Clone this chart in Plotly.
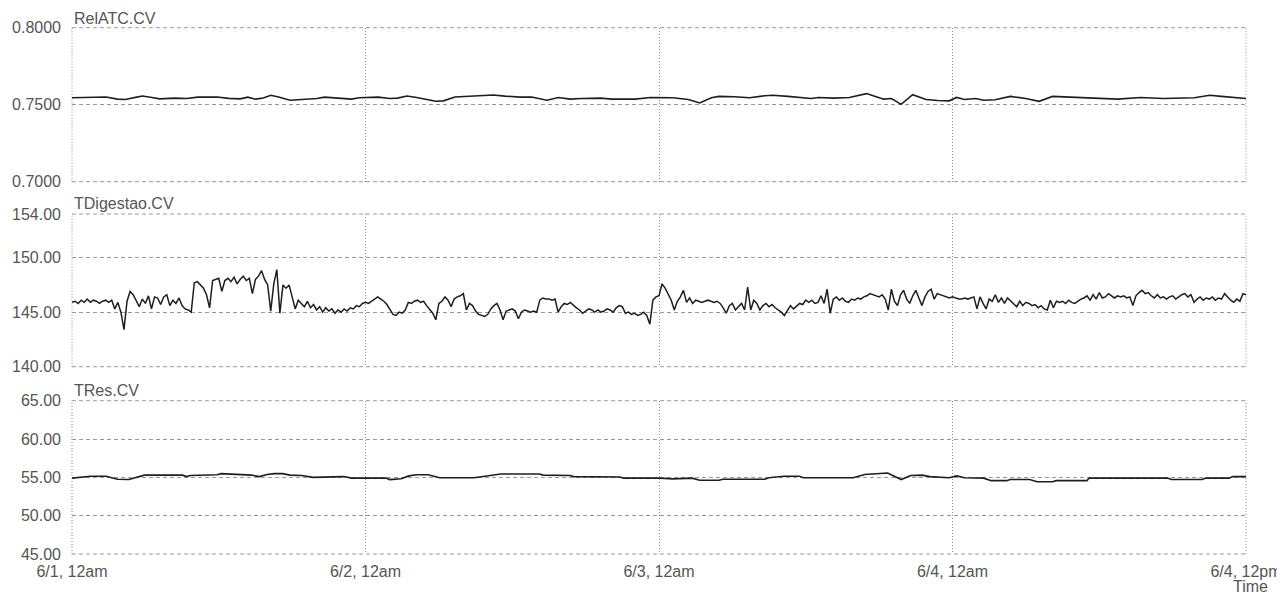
import plotly.graph_objects as go
from plotly.subplots import make_subplots

# ---------------- data (hours since 6/1 12am) ----------------
series_names = ["RelATC.CV", "TDigestao.CV", "TRes.CV"]

relatc_hours = [
    0, 1.53, 2.78, 3.72, 4.35, 5.29, 5.76, 6.54, 7.17, 8.42,
    9.36, 10.3, 11.24, 11.87, 12.81, 13.75, 14.38, 15.01, 15.64, 16.26,
    16.89, 17.83, 18.46, 20.02, 20.65, 21.9, 22.85, 23.47, 24.1, 25.04,
    25.98, 26.61, 27.39, 28.18, 29.75, 30.37, 31.31, 32.25, 33.19, 34.45,
    35.39, 36.64, 37.58, 38.84, 39.78, 40.72, 41.66, 43.22, 44.16, 46.05,
    47.3, 48.08, 49.14, 50.39, 51.33, 52.28, 52.9, 54.16, 55.41, 56.66,
    57.29, 58.54, 59.8, 60.43, 61.05, 62.31, 63.56, 64.19, 64.97, 65.76,
    66.38, 67.01, 67.8, 68.74, 69.84, 70.78, 71.72, 72.34, 72.97, 73.91,
    74.54, 75.48, 76.73, 77.99, 79.08, 80.18, 81.43, 83.31, 84.26, 85.51,
    87.39, 89.27, 91.78, 93.04, 93.98, 94.92, 95.85, 96.0,
]
relatc_values = [
    0.7545, 0.7549, 0.7550, 0.7536, 0.7534, 0.7549, 0.7556, 0.7547, 0.7538, 0.7543,
    0.7540, 0.7549, 0.7547, 0.7550, 0.7541, 0.7538, 0.7549, 0.7536, 0.7543, 0.7561,
    0.7550, 0.7529, 0.7532, 0.7540, 0.7549, 0.7543, 0.7536, 0.7545, 0.7545, 0.7549,
    0.7540, 0.7543, 0.7556, 0.7547, 0.7522, 0.7525, 0.7550, 0.7554, 0.7558, 0.7563,
    0.7556, 0.7549, 0.7550, 0.7529, 0.7547, 0.7536, 0.7540, 0.7543, 0.7536, 0.7536,
    0.7547, 0.7547, 0.7545, 0.7534, 0.7511, 0.7545, 0.7554, 0.7552, 0.7545, 0.7558,
    0.7561, 0.7554, 0.7547, 0.7540, 0.7547, 0.7543, 0.7547, 0.7558, 0.7572, 0.7552,
    0.7536, 0.7540, 0.7502, 0.7565, 0.7534, 0.7527, 0.7525, 0.7547, 0.7534, 0.7540,
    0.7529, 0.7532, 0.7554, 0.7540, 0.7522, 0.7554, 0.7550, 0.7543, 0.7540, 0.7536,
    0.7547, 0.7540, 0.7545, 0.7561, 0.7554, 0.7549, 0.7540, 0.7540,
]

# TDigestao.CV sampled every 15 minutes (one row per hour)
tdig_values = [
    145.9, 146.0, 145.8, 146.1,
    145.9, 146.2, 145.9, 146.1,
    146.0, 145.8, 146.0, 146.1,
    145.9, 146.1, 145.3, 145.9,
    145.0, 143.4, 146.0, 146.9,
    146.6, 146.1, 145.5, 146.2,
    145.8, 146.5, 145.3, 146.4,
    146.3, 145.7, 146.4, 146.6,
    145.6, 146.1, 145.8, 146.3,
    145.6, 145.3, 145.2, 145.0,
    147.7, 147.8, 147.5, 147.2,
    146.6, 145.4, 147.9, 148.0,
    148.1, 146.9, 147.9, 148.1,
    147.8, 148.2, 147.6, 148.0,
    148.3, 147.9, 148.1, 146.7,
    148.0, 148.3, 148.8, 148.0,
    147.5, 145.1, 147.6, 148.9,
    144.9, 147.5, 147.2, 147.5,
    146.3, 145.3, 146.1, 145.8,
    145.5, 146.0, 145.4, 145.7,
    145.2, 145.5, 145.0, 145.4,
    145.1, 145.3, 144.9, 145.2,
    145.0, 145.3, 145.1, 145.4,
    145.3, 145.6, 145.5, 145.8,
    145.9, 145.8, 146.0, 146.2,
    146.4, 146.2, 146.0, 145.7,
    145.3, 144.8, 144.7, 145.0,
    144.9, 145.2, 145.9, 145.8,
    146.0, 146.1, 145.9, 146.0,
    145.6, 145.2, 144.9, 144.3,
    145.8, 146.0, 146.4, 146.1,
    145.5, 146.2, 146.4, 146.5,
    146.7, 145.2, 145.8, 145.6,
    145.1, 144.8, 144.7, 144.6,
    144.8, 145.3, 145.6, 145.8,
    145.2, 144.3, 145.1, 145.2,
    145.3, 145.1, 144.4, 145.0,
    145.2, 145.1, 145.0, 145.1,
    145.0, 146.1, 146.3, 146.2,
    146.2, 146.1, 146.2, 145.0,
    145.5, 145.8, 145.7, 145.9,
    145.6, 145.4, 145.2, 144.9,
    145.1, 145.3, 145.2, 145.0,
    145.2, 145.0, 145.1, 145.3,
    145.2, 145.0, 145.4, 145.6,
    145.5, 144.9, 145.0, 144.8,
    144.9, 144.7, 144.8, 145.0,
    144.7, 143.9, 146.1, 146.4,
    146.5, 147.6, 147.2, 146.7,
    146.1, 145.2, 146.0, 146.4,
    147.0, 145.9, 146.3, 145.8,
    146.1, 146.0, 145.9, 146.0,
    146.1, 146.0, 145.9, 146.0,
    145.8, 145.4, 144.9, 145.6,
    145.8, 145.2, 145.5, 145.8,
    145.2, 147.3, 145.2, 146.1,
    145.8, 145.2, 145.6, 145.8,
    145.5, 145.7, 145.4, 145.2,
    145.0, 144.7, 145.1, 145.6,
    145.3, 145.6, 145.8, 145.7,
    146.1, 145.9, 146.1, 145.8,
    145.9, 146.5, 145.8, 147.1,
    144.9, 146.2, 146.4, 146.1,
    146.3, 146.0, 145.9, 146.2,
    146.1, 146.3, 146.2, 146.4,
    146.5, 146.7, 146.6, 146.5,
    146.4, 146.6, 146.2, 145.2,
    147.1, 146.0, 145.6, 146.6,
    147.0, 146.2, 145.8, 146.5,
    147.0, 146.3, 145.6, 146.4,
    146.9, 147.1, 146.2, 146.7,
    146.6, 146.5, 146.4, 146.3,
    146.4, 146.3, 146.2, 146.2,
    146.3, 146.2, 146.3, 146.4,
    145.3, 146.4, 145.8, 145.3,
    146.2, 146.0, 146.6, 145.9,
    146.3, 145.8, 146.3, 146.0,
    145.7, 145.5, 146.0, 145.6,
    145.9, 145.8, 145.6, 145.7,
    145.4, 145.6, 145.3, 145.2,
    146.1, 145.4, 146.0, 145.9,
    146.0, 145.8, 146.1, 145.9,
    145.8, 146.0, 146.2, 146.3,
    146.5, 146.1, 146.6, 146.2,
    146.8, 146.3, 146.4, 146.7,
    146.5, 146.3, 146.5, 146.4,
    146.5, 146.3, 146.4, 145.6,
    146.5, 146.8, 147.0, 146.7,
    146.8, 146.5, 146.3, 146.6,
    146.3, 146.4, 146.2, 146.4,
    146.5, 146.2, 146.4, 146.6,
    146.7, 146.4, 146.6, 145.9,
    146.2, 146.4, 146.1, 146.3,
    146.2, 146.4, 146.1, 146.3,
    146.2, 146.7, 146.4, 146.1,
    145.9, 146.2, 146.0, 146.7,
    146.6,
]
tdig_hours = [i * 0.25 for i in range(len(tdig_values))]

tres_hours = [
    0, 1.53, 2.78, 3.72, 4.66, 5.29, 5.92, 9.05, 9.36, 9.68,
    11.87, 12.19, 12.81, 13.13, 14.69, 15.32, 15.95, 16.57, 17.2, 17.83,
    18.77, 19.71, 22.22, 22.85, 25.67, 25.98, 26.92, 27.55, 28.18, 29.12,
    30.06, 32.88, 33.5, 34.45, 35.07, 38.21, 38.52, 40.72, 41.03, 44.79,
    45.1, 48.08, 49.14, 50.71, 51.33, 52.9, 53.22, 56.66, 56.98, 58.23,
    59.49, 59.8, 63.88, 64.82, 66.38, 66.7, 67.8, 68.58, 69.52, 70.15,
    71.72, 72.34, 72.97, 74.54, 75.17, 76.42, 76.73, 78.3, 78.93, 80.18,
    80.49, 83.0, 83.16, 89.58, 89.9, 92.41, 92.72, 94.6, 94.92, 96.0,
]
tres_values = [
    54.90, 55.14, 55.14, 54.76, 54.71, 54.95, 55.29, 55.29, 55.10, 55.24,
    55.33, 55.48, 55.43, 55.33, 55.29, 55.10, 55.38, 55.48, 55.48, 55.29,
    55.24, 55.00, 55.10, 54.90, 54.90, 54.71, 54.81, 55.19, 55.33, 55.33,
    54.95, 54.95, 55.10, 55.29, 55.43, 55.43, 55.29, 55.24, 55.10, 55.05,
    54.90, 54.90, 54.80, 54.90, 54.62, 54.62, 54.76, 54.76, 54.95, 55.14,
    55.14, 54.95, 54.95, 55.38, 55.52, 55.57, 54.71, 55.24, 55.29, 55.10,
    54.95, 55.19, 54.95, 54.90, 54.57, 54.57, 54.71, 54.71, 54.43, 54.43,
    54.57, 54.57, 54.90, 54.90, 54.71, 54.71, 54.90, 54.90, 55.10, 55.10,
]

x_tick_hours = [0, 24, 48, 72, 96]
x_tick_labels = ["6/1, 12am", "6/2, 12am", "6/3, 12am", "6/4, 12am", "6/4, 12pm"]

relatc_ticks = [0.70, 0.75, 0.80]
tdig_ticks = [140, 145, 150, 154]
tres_ticks = [45, 50, 55, 60, 65]

# ---------------- figure ----------------
# the page has an 8px body margin, so the figure is 8px smaller than the window
W, H = 1277, 588
ML, MR = 64, 39
FONT = "Liberation Sans, Arial, sans-serif"
TXT = "#555555"
GRID = "#9a9a9a"
VGRID = "#8a8a8a"
LINE = "#1e1e1e"
HDASH = "4px,3px"
VDOT = "1px,2px"

fig = make_subplots(rows=3, cols=1, shared_xaxes=True)

fig.add_trace(go.Scatter(x=relatc_hours, y=relatc_values, mode="lines",
                         line=dict(color=LINE, width=1.6), name=series_names[0]), row=1, col=1)
fig.add_trace(go.Scatter(x=tdig_hours, y=tdig_values, mode="lines",
                         line=dict(color=LINE, width=1.5), name=series_names[1]), row=2, col=1)
fig.add_trace(go.Scatter(x=tres_hours, y=tres_values, mode="lines",
                         line=dict(color=LINE, width=1.6), name=series_names[2]), row=3, col=1)

# pixel rows of each panel in figure coordinates (top, bottom)
panels = [(19.7, 173.7), (206.0, 358.7), (392.7, 546.0)]
yranges = [[0.70, 0.80], [140, 154], [45, 65]]
yticks = [relatc_ticks, tdig_ticks, tres_ticks]
yfmts = [".4f", ".2f", ".2f"]

shapes = []
for i in range(3):
    top, bot = panels[i]
    ya = "yaxis" if i == 0 else f"yaxis{i+1}"
    fig.layout[ya].update(
        domain=[1 - bot / H, 1 - top / H],
        range=yranges[i], tickvals=yticks[i], tickformat=yfmts[i],
        showgrid=True, gridcolor=GRID, griddash=HDASH, gridwidth=1,
        zeroline=False, showline=False, ticks="", automargin=False,
        ticklabelstandoff=10,
        tickfont=dict(family=FONT, size=16, color=TXT),
    )
    xa = "xaxis" if i == 0 else f"xaxis{i+1}"
    fig.layout[xa].update(
        range=[0, 96], tickvals=x_tick_hours, ticktext=x_tick_labels,
        showgrid=True, gridcolor=VGRID, griddash=VDOT, gridwidth=1,
        zeroline=False, showline=False, ticks="", automargin=False,
        showticklabels=(i == 2),
        ticklabelstandoff=6,
        tickfont=dict(family=FONT, size=16, color=TXT),
    )
    yref = "y domain" if i == 0 else f"y{i+1} domain"
    # panel border: dashed top/bottom, dotted left/right (grid style)
    for yy in (0, 1):
        shapes.append(dict(type="line", xref="paper", yref=yref, x0=0, x1=1, y0=yy, y1=yy,
                           line=dict(color=GRID, width=1, dash=HDASH), layer="below"))
    for xx in (0, 1):
        shapes.append(dict(type="line", xref="paper", yref=yref, x0=xx, x1=xx, y0=0, y1=1,
                           line=dict(color=VGRID, width=1, dash=VDOT), layer="below"))

title_y = [10, 196, 382]
annotations = []
for name, ty in zip(series_names, title_y):
    annotations.append(dict(text=name, xref="paper", yref="paper", x=0, y=1 - ty / H,
                            xanchor="left", yanchor="middle", showarrow=False,
                            font=dict(family=FONT, size=16, color=TXT)))
annotations.append(dict(text="Time", xref="paper", yref="paper",
                        x=(1242 - ML) / (W - ML - MR), y=1 - 578 / H,
                        xanchor="center", yanchor="middle", showarrow=False,
                        font=dict(family=FONT, size=16, color=TXT)))

fig.update_layout(
    width=W, height=H,
    margin=dict(l=ML, r=MR, t=0, b=0),
    paper_bgcolor="white", plot_bgcolor="white",
    showlegend=False,
    annotations=annotations,
    shapes=shapes,
)

fig.write_html("out.html")
